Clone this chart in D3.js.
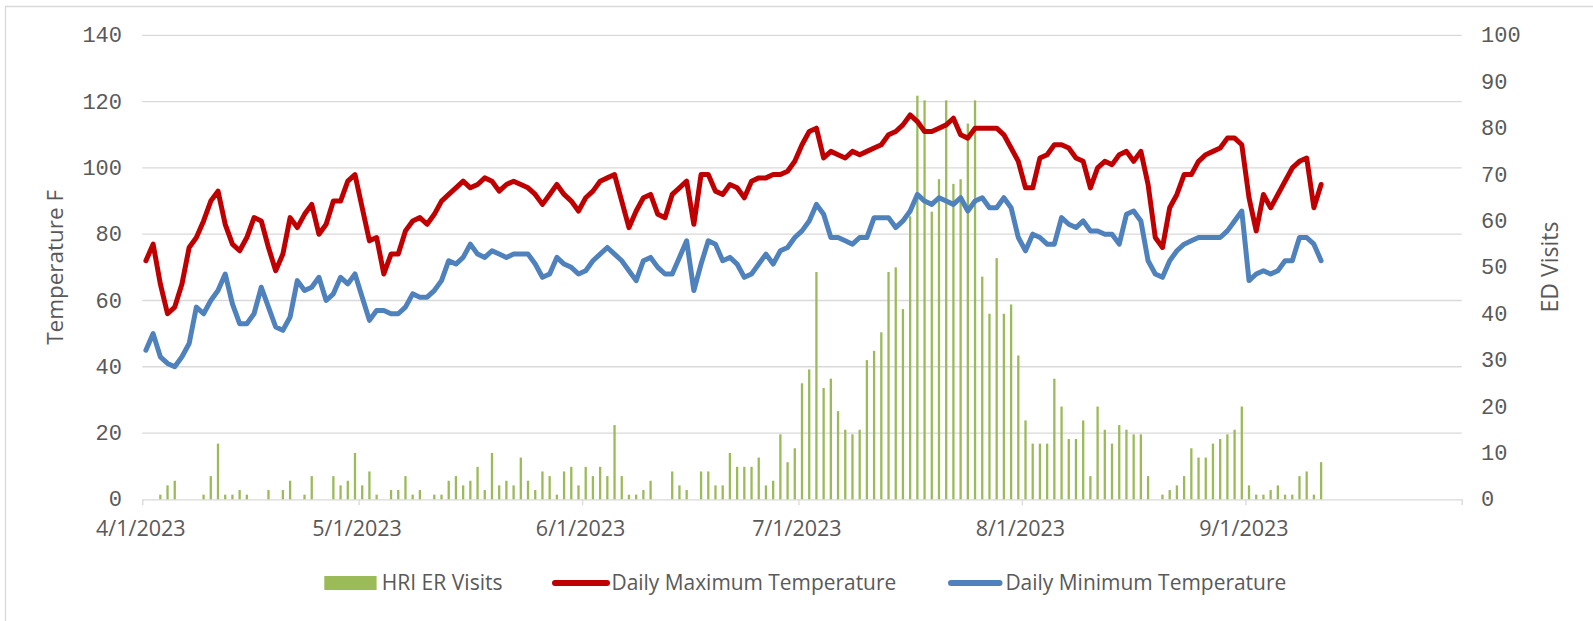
<!DOCTYPE html>
<html><head><meta charset="utf-8">
<script src="https://cdn.jsdelivr.net/npm/d3@7/dist/d3.min.js"></script>
<style>body{margin:0;background:#fff}svg{display:block}</style>
</head><body>
<svg id="c" width="1593" height="621"></svg>
<script>
// ---- data ----
const startDate = [2023, 3, 1];   // 4/1/2023
const maxTemp = [72,77,65,56,58,65,76,79,84,90,93,83,77,75,79,85,84,76,69,74,
 85,82,86,89,80,83,90,90,96,98,88,78,79,68,74,74,81,84,85,83,
 86,90,92,94,96,94,95,97,96,93,95,96,95,94,92,89,92,95,92,90,
 87,91,93,96,97,98,90,82,87,91,92,86,85,92,94,96,83,98,98,93,
 92,95,94,91,96,97,97,98,98,99,102,107,111,112,103,105,104,103,105,104,
 105,106,107,110,111,113,116,114,111,111,112,113,115,110,109,112,112,112,112,110,
 106,102,94,94,103,104,107,107,106,103,102,94,100,102,101,104,105,102,105,95,
 79,76,88,92,98,98,102,104,105,106,109,109,107,91,81,92,88,92,96,100,
 102,103,88,95];
const minTemp = [45,50,43,41,40,43,47,58,56,60,63,68,59,53,53,56,64,58,52,51,
 55,66,63,64,67,60,62,67,65,68,61,54,57,57,56,56,58,62,61,61,
 63,66,72,71,73,77,74,73,75,74,73,74,74,74,71,67,68,73,71,70,
 68,69,72,74,76,74,72,69,66,72,73,70,68,68,73,78,63,71,78,77,
 72,73,71,67,68,71,74,71,75,76,79,81,84,89,86,79,79,78,77,79,
 79,85,85,85,82,84,87,92,90,89,91,90,89,91,87,90,91,88,88,91,
 88,79,75,80,79,77,77,85,83,82,84,81,81,80,80,77,86,87,84,72,
 68,67,72,75,77,78,79,79,79,79,81,84,87,66,68,69,68,69,72,72,
 79,79,77,72];
const hriVisits = [0,0,1,3,4,0,0,0,1,5,12,1,1,2,1,0,0,2,0,2,
 4,0,1,5,0,0,5,3,4,10,3,6,1,0,2,2,5,1,2,0,
 1,1,4,5,3,4,7,2,10,3,4,3,9,4,2,6,5,1,6,7,
 3,7,5,7,5,16,5,1,1,2,4,0,0,6,3,2,0,6,6,3,
 3,10,7,7,7,9,3,4,14,8,11,25,28,49,24,26,19,15,14,15,
 30,32,36,49,50,41,61,87,86,62,69,86,68,69,81,86,48,40,52,40,
 42,31,17,12,12,12,26,20,13,13,17,5,20,15,12,16,15,14,14,5,
 0,1,2,3,5,11,9,9,12,13,14,15,20,3,1,1,2,3,1,1,
 5,6,1,8];
const xTickLabels = ["4/1/2023","5/1/2023","6/1/2023","7/1/2023","8/1/2023","9/1/2023",""];
const tempTicks = [0,20,40,60,80,100,120,140];
const visitTicks = [0,10,20,30,40,50,60,70,80,90,100];
const axisTitles = ["Temperature F","ED Visits"];
const legendLabels = ["HRI ER Visits","Daily Maximum Temperature","Daily Minimum Temperature"];
const colors = {bar:"#9BBB59", max:"#C00000", min:"#4F81BD", grid:"#D9D9D9", text:"#595959"};

// ---- layout ----
const W = 1593, H = 621;
const L = 142.3, R = 1461.7, T = 35.4, B = 499.3;
const svg = d3.select("#c");
svg.append("rect").attr("width",W).attr("height",H).attr("fill","#fff");
// partial frame (left & top)
svg.append("line").attr("x1",5.5).attr("x2",5.5).attr("y1",6).attr("y2",H).attr("stroke",colors.grid).attr("stroke-width",1.3);
svg.append("line").attr("x1",5).attr("x2",W).attr("y1",6.5).attr("y2",6.5).attr("stroke",colors.grid).attr("stroke-width",1.3);

const d0 = new Date(startDate[0], startDate[1], startDate[2]);
const dEnd = d3.timeMonth.offset(d0, 6);
const x = d3.scaleTime().domain([d0, dEnd]).range([L, R]);
const yT = d3.scaleLinear().domain([0,140]).range([B, T]);
const yV = d3.scaleLinear().domain([0,100]).range([B, T]);
const dayOf = i => d3.timeDay.offset(d0, i);
const cx = i => (x(dayOf(i)) + x(dayOf(i+1))) / 2;

function fit(sel, target){
  const n = sel.node(); let fs = +sel.attr("font-size");
  const w = n.getComputedTextLength();
  if (w > 0) sel.attr("font-size", fs * target / w);
  return +sel.attr("font-size");
}

// gridlines
svg.append("g").selectAll("line").data(tempTicks.slice(1)).join("line")
  .attr("x1",L).attr("x2",R).attr("y1",d=>yT(d)).attr("y2",d=>yT(d))
  .attr("stroke",colors.grid).attr("stroke-width",1.3);

// x axis
const monthTicks = d3.timeMonth.range(d0, d3.timeDay.offset(dEnd,1));
const xAxis = d3.axisBottom(x).tickValues(monthTicks).tickSize(6).tickSizeOuter(0)
  .tickFormat((d,i)=>xTickLabels[i] || "");
const gx = svg.append("g").attr("transform",`translate(0,${B})`).call(xAxis);
gx.select(".domain").attr("stroke",colors.grid).attr("stroke-width",1.3);
gx.selectAll(".tick line").attr("stroke",colors.grid).attr("stroke-width",1.3);
gx.selectAll(".tick text").attr("fill",colors.text).attr("font-family","'Open Sans', sans-serif")
  .attr("font-size",21.5).attr("dy","0").attr("y",37).attr("x",-2);

// left axis labels
svg.append("g").selectAll("text").data(tempTicks).join("text")
  .attr("x",122).attr("y",d=>yT(d)).attr("dy","0.32em").attr("text-anchor","end")
  .attr("font-family","'Liberation Mono', monospace").attr("font-size",22).attr("fill",colors.text)
  .text(d=>d);
// right axis labels
svg.append("g").selectAll("text").data(visitTicks).join("text")
  .attr("x",1481).attr("y",d=>yV(d)).attr("dy","0.32em").attr("text-anchor","start")
  .attr("font-family","'Liberation Mono', monospace").attr("font-size",22).attr("fill",colors.text)
  .text(d=>d);

// axis titles
const t1 = svg.append("text").attr("transform","translate(55,267.4) rotate(-90)")
  .attr("text-anchor","middle").attr("dy","0.35em").attr("font-family","'Open Sans', sans-serif")
  .attr("font-size",20).attr("fill",colors.text).text(axisTitles[0]);
fit(t1,155);
const t2 = svg.append("text").attr("transform","translate(1550,267) rotate(-90)")
  .attr("text-anchor","middle").attr("dy","0.35em").attr("font-family","'Open Sans', sans-serif")
  .attr("font-size",20).attr("fill",colors.text).text(axisTitles[1]);
fit(t2,91);

// bars
const bw = 2.3;
svg.append("g").selectAll("rect").data(hriVisits).join("rect")
  .attr("x",(d,i)=>cx(i)-bw/2).attr("width",bw)
  .attr("y",d=>yV(d)).attr("height",d=>B-yV(d)).attr("fill",colors.bar);

// lines
const line = d3.line().x((d,i)=>cx(i)).y(d=>yT(d));
svg.append("path").datum(maxTemp).attr("d",line).attr("fill","none")
  .attr("stroke",colors.max).attr("stroke-width",5).attr("stroke-linejoin","round").attr("stroke-linecap","round");
svg.append("path").datum(minTemp).attr("d",line).attr("fill","none")
  .attr("stroke",colors.min).attr("stroke-width",5).attr("stroke-linejoin","round").attr("stroke-linecap","round");

// legend
const ly = 583;
const lg = svg.append("g");
lg.append("rect").attr("x",324.3).attr("y",ly-7).attr("width",52.3).attr("height",14).attr("fill",colors.bar);
const lt = [[381.7,121],[611.5,285],[1005.4,281]];
lg.append("line").attr("x1",555).attr("x2",607).attr("y1",ly).attr("y2",ly)
  .attr("stroke",colors.max).attr("stroke-width",6).attr("stroke-linecap","round");
lg.append("line").attr("x1",951).attr("x2",999.5).attr("y1",ly).attr("y2",ly)
  .attr("stroke",colors.min).attr("stroke-width",6).attr("stroke-linecap","round");
legendLabels.forEach((s,i)=>{
  const t = lg.append("text").attr("x",lt[i][0]).attr("y",ly).attr("dy","0.35em")
    .attr("font-family","'Open Sans', sans-serif").attr("font-size",20).attr("fill",colors.text).text(s);
  fit(t, lt[i][1]);
});
</script>
</body></html>
